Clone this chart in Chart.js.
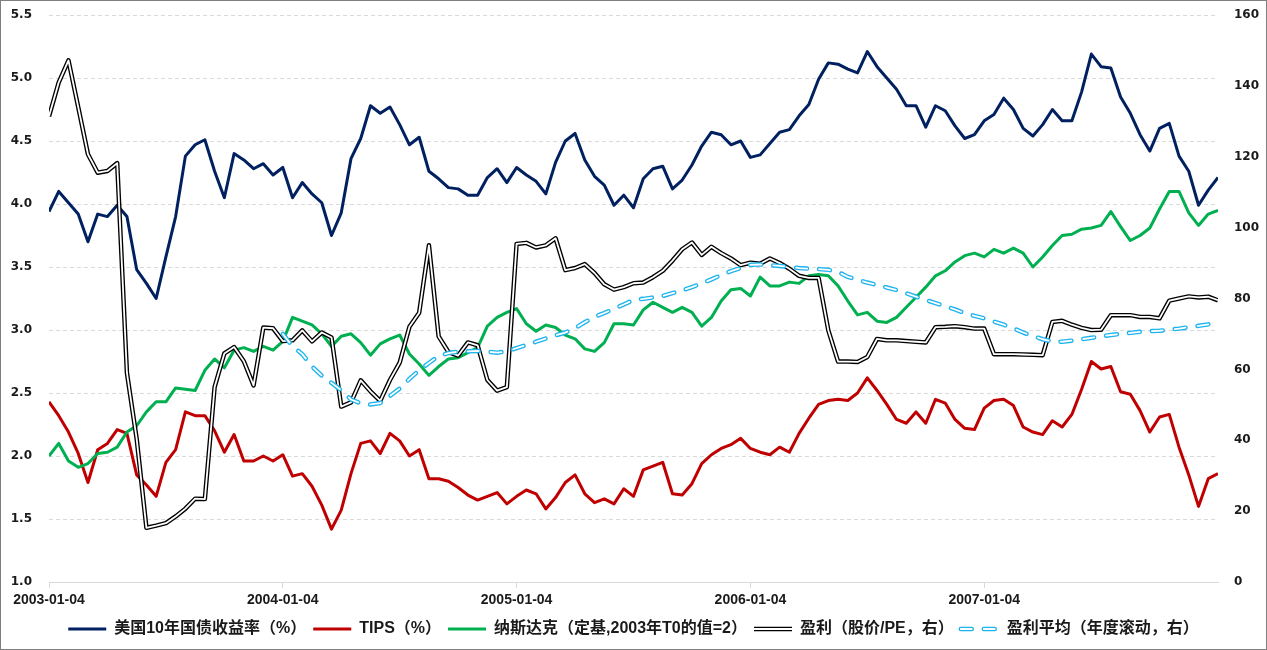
<!DOCTYPE html>
<html>
<head>
<meta charset="utf-8">
<script src="https://cdn.jsdelivr.net/npm/chart.js@4.4.1/dist/chart.umd.min.js"></script>
<style>
  html, body { margin: 0; padding: 0; background: #fff; }
</style>
</head>
<body>
<canvas id="chart" width="1267" height="650"></canvas>
<script>
// half-month steps starting 2003-01-04
const yearTickAt = [0, 24, 48, 72, 96];
const yearTickLabels = ['2003-01-04', '2004-01-04', '2005-01-04', '2006-01-04', '2007-01-04'];

// left axis (%)
const yield10y = [
  3.94, 4.10, 4.01, 3.92, 3.70, 3.92, 3.90, 3.99, 3.90, 3.48,
  3.37, 3.25, 3.58, 3.90, 4.38, 4.47, 4.51, 4.26, 4.05, 4.40,
  4.35, 4.28, 4.32, 4.23, 4.29, 4.05, 4.17, 4.08, 4.01, 3.75,
  3.93, 4.36, 4.52, 4.78, 4.72, 4.77, 4.63, 4.47, 4.53, 4.26,
  4.20, 4.13, 4.12, 4.07, 4.07, 4.21, 4.28, 4.17, 4.29, 4.23,
  4.18, 4.08, 4.33, 4.50, 4.56, 4.35, 4.22, 4.15, 3.99, 4.07,
  3.97, 4.20, 4.28, 4.30, 4.12, 4.19, 4.31, 4.46, 4.57, 4.55,
  4.47, 4.50, 4.37, 4.39, 4.48, 4.57, 4.59, 4.70, 4.79, 4.99,
  5.12, 5.11, 5.07, 5.04, 5.21, 5.09, 5.00, 4.91, 4.78, 4.78,
  4.61, 4.78, 4.74, 4.62, 4.52, 4.55, 4.66, 4.71, 4.84, 4.75,
  4.60, 4.54, 4.63, 4.75, 4.66, 4.66, 4.89, 5.19, 5.09, 5.08,
  4.85, 4.72, 4.55, 4.42, 4.60, 4.64, 4.38, 4.26, 3.99, 4.11,
  4.21
];
const tips = [
  2.43, 2.32, 2.19, 2.02, 1.79, 2.05, 2.10, 2.21, 2.18, 1.85,
  1.77, 1.68, 1.95, 2.05, 2.35, 2.32, 2.32, 2.20, 2.03, 2.17,
  1.96, 1.96, 2.00, 1.96, 2.01, 1.84, 1.86, 1.76, 1.61, 1.42,
  1.57, 1.86, 2.10, 2.12, 2.02, 2.18, 2.12, 2.00, 2.05, 1.82,
  1.82, 1.80, 1.75, 1.69, 1.65, 1.68, 1.71, 1.62, 1.68, 1.73,
  1.70, 1.58, 1.67, 1.79, 1.85, 1.70, 1.63, 1.66, 1.62, 1.74,
  1.68, 1.89, 1.92, 1.95, 1.70, 1.69, 1.78, 1.94, 2.01, 2.06,
  2.09, 2.14, 2.06, 2.03, 2.01, 2.07, 2.03, 2.18, 2.30, 2.41,
  2.44, 2.45, 2.44, 2.50, 2.62, 2.52, 2.41, 2.29, 2.26, 2.35,
  2.26, 2.45, 2.42, 2.29, 2.22, 2.21, 2.38, 2.44, 2.45, 2.40,
  2.23, 2.19, 2.17, 2.28, 2.23, 2.33, 2.53, 2.75, 2.69, 2.71,
  2.51, 2.49, 2.36, 2.19, 2.31, 2.33, 2.07, 1.85, 1.60, 1.82,
  1.86
];
const nasdaq = [
  2.00, 2.10, 1.96, 1.91, 1.94, 2.02, 2.03, 2.07, 2.19, 2.24,
  2.35, 2.43, 2.43, 2.54, 2.53, 2.52, 2.68, 2.77, 2.70, 2.84,
  2.86, 2.83, 2.87, 2.84, 2.91, 3.10, 3.07, 3.04, 2.97, 2.87,
  2.95, 2.97, 2.90, 2.80, 2.89, 2.93, 2.96, 2.81, 2.73, 2.64,
  2.71, 2.77, 2.78, 2.82, 2.86, 3.03, 3.10, 3.14, 3.17, 3.05,
  2.99, 3.04, 3.02, 2.96, 2.93, 2.85, 2.83, 2.90, 3.05, 3.05,
  3.04, 3.16, 3.22, 3.18, 3.14, 3.18, 3.14, 3.03, 3.10, 3.23,
  3.32, 3.33, 3.27, 3.42, 3.35, 3.35, 3.38, 3.37, 3.43, 3.44,
  3.43, 3.35, 3.23, 3.12, 3.14, 3.07, 3.06, 3.10, 3.18, 3.26,
  3.34, 3.43, 3.47, 3.54, 3.59, 3.61, 3.58, 3.64, 3.61, 3.65,
  3.61, 3.50, 3.58, 3.67, 3.75, 3.76, 3.80, 3.81, 3.83, 3.94,
  3.82, 3.71, 3.75, 3.81, 3.96, 4.10, 4.10, 3.93, 3.83, 3.92,
  3.95
];

// right axis
const earnings = [
  131.4, 141, 147.2, 134, 120.7, 115.5, 116, 118.2, 59, 40.4,
  15.3, 15.9, 16.6, 18.5, 20.7, 23.5, 23.4, 55, 64.5, 66.3,
  62.3, 55.5, 71.8, 71.6, 68, 68.2, 71, 67.9, 70.4, 69,
  49.5, 50.7, 56.9, 53.8, 51.1, 57, 61.9, 72, 76, 95,
  69.3, 64.9, 63.9, 67.6, 66.8, 57, 54, 55, 95.4, 95.7,
  94.4, 95, 97, 88, 88.6, 89.7, 87.2, 84, 82.5, 83.2,
  84.3, 84.5, 86, 87.8, 90.7, 93.9, 95.8, 92.3, 94.6, 92.8,
  91.3, 89.4, 90.1, 89.8, 91.3, 90, 88.4, 86.4, 85.8, 85.8,
  71, 62.2, 62.2, 62.1, 63.5, 68.6, 68.2, 68.2, 68, 67.8,
  67.6, 71.9, 72, 72.2, 71.9, 71.5, 71.5, 64.3, 64.3, 64.3,
  64.2, 64.1, 64, 73.4, 73.7, 72.6, 71.7, 71.1, 71.2, 75.3,
  75.3, 75.3, 74.8, 74.8, 74.4, 79.4, 80, 80.6, 80.3, 80.5,
  79.5
];
const earningsAvg = [
  null, null, null, null, null, null, null, null, null, null,
  null, null, null, null, null, null, null, null, null, null,
  null, null, null, null,
  70, 66.5, 64.3, 60.8, 58.2, 56.2, 54.1, 51.5, 50.4, 50.1,
  50.5, 52.5, 54.6, 57.3, 59.8, 61.8, 63.8, 64.6, 65.0, 65.1,
  65.2, 65.0, 64.7, 65.1, 66.0, 66.9, 67.8, 68.7, 69.6, 70.4,
  71.6, 73.3, 74.8, 75.9, 77.1, 78.3, 79.6, 79.9, 80.3, 80.7,
  81.5, 82.3, 83.2, 84.3, 85.4, 86.6, 87.7, 88.6, 89.5, 89.6,
  89.4, 89.2, 88.9, 88.6, 88.4, 88.3, 88.1, 87.5, 86.1, 85.3,
  84.5, 83.8, 83.1, 82.4, 81.5, 80.5, 79.6, 78.7, 77.8, 76.9,
  75.9, 75.1, 74.4, 73.5, 72.6, 71.6, 70.4, 69.4, 68.5, 67.9,
  67.8, 68.1, 68.5, 68.9, 69.3, 69.7, 70.0, 70.3, 70.6, 70.8,
  70.9, 71.2, 71.5, 71.9, 72.3, 72.7, 73.0
];

const periods = yield10y.map((_, i) => i);
const textColor = '#1a1a1a';
const tickFont = { family: 'DejaVu Sans', size: 12, weight: 'bold' };
const avgDash = [11, 12];

// white centre line for the double lines in the legend, plus the outer frame
const decor = {
  id: 'decor',
  afterDraw(chart) {
    const ctx = chart.ctx;
    const lg = chart.legend;
    const lab = lg.options.labels;
    lg.legendItems.forEach((item, k) => {
      const ds = chart.data.datasets[item.datasetIndex];
      if (!ds.core) return;
      const hb = lg.legendHitBoxes[k];
      const y = hb.top + lab.font.size / 2;
      ctx.save();
      ctx.strokeStyle = '#fff';
      ctx.lineWidth = 1.8;
      ctx.lineCap = ds.borderCapStyle || 'butt';
      ctx.setLineDash(ds.borderDash || []);
      ctx.beginPath();
      ctx.moveTo(hb.left, y);
      ctx.lineTo(hb.left + lab.pointStyleWidth, y);
      ctx.stroke();
      ctx.restore();
    });
    ctx.save();
    ctx.strokeStyle = '#7f7f7f';
    ctx.lineWidth = 1;
    ctx.strokeRect(0.5, 0.5, chart.width - 1, chart.height - 1);
    ctx.restore();
  }
};

const line = (extra) => Object.assign({
  borderWidth: 3, pointRadius: 0, tension: 0, fill: false,
  borderJoinStyle: 'round', yAxisID: 'y'
}, extra);

const noAxisPad = s => { s.width = 49; s.paddingTop = 0; s.paddingBottom = 0; };

new Chart(document.getElementById('chart'), {
  type: 'line',
  data: {
    labels: periods,
    datasets: [
      line({ label: '美国10年国债收益率（%）', data: yield10y, borderColor: '#002060', order: 7 }),
      line({ label: 'TIPS（%）', data: tips, borderColor: '#C00000', order: 6 }),
      line({ label: '纳斯达克（定基,2003年T0的值=2）', data: nasdaq, borderColor: '#00B050', order: 5 }),
      line({ label: '盈利（股价/PE，右）', data: earnings, borderColor: '#000000', borderWidth: 4.5, yAxisID: 'y1', order: 4, core: true }),
      line({ label: '_core1', data: earnings, borderColor: '#ffffff', borderWidth: 1.8, yAxisID: 'y1', order: 3, overlay: true }),
      line({ label: '盈利平均（年度滚动，右）', data: earningsAvg, borderColor: '#1EB4EE', borderWidth: 4.5, borderDash: avgDash, borderCapStyle: 'round', yAxisID: 'y1', order: 2, core: true }),
      line({ label: '_core2', data: earningsAvg, borderColor: '#ffffff', borderWidth: 1.8, borderDash: avgDash, borderCapStyle: 'round', yAxisID: 'y1', order: 1, overlay: true })
    ]
  },
  options: {
    responsive: false,
    animation: false,
    layout: { padding: { top: 15, left: 0, right: 0, bottom: 3 } },
    plugins: {
      tooltip: { enabled: false },
      legend: {
        position: 'bottom',
        labels: {
          usePointStyle: true,
          pointStyleWidth: 38,
          padding: 7,
          color: textColor,
          font: { family: '"Liberation Sans", "Noto Sans CJK SC"', size: 16, weight: 'bold' },
          sort: (a, b) => a.datasetIndex - b.datasetIndex,
          generateLabels(chart) {
            return Chart.defaults.plugins.legend.labels.generateLabels(chart).map(item => {
              const ds = chart.data.datasets[item.datasetIndex];
              return Object.assign(item, {
                pointStyle: 'line',
                strokeStyle: ds.borderColor,
                lineWidth: ds.borderWidth,
                lineCap: ds.borderCapStyle || 'butt',
                lineDash: ds.borderDash || []
              });
            });
          },
          filter: (item, data) => !data.datasets[item.datasetIndex].overlay
        }
      }
    },
    scales: {
      x: {
        type: 'linear',
        min: 0,
        max: periods.length - 1,
        afterBuildTicks: s => { s.ticks = yearTickAt.map(v => ({ value: v })); },
        ticks: {
          autoSkip: false,
          maxRotation: 0,
          padding: 4,
          color: textColor,
          font: { family: 'Liberation Sans', size: 14, weight: 'bold' },
          callback: v => yearTickLabels[yearTickAt.indexOf(v)]
        },
        grid: { drawOnChartArea: false, drawTicks: true, tickLength: 6, color: '#d9d9d9' },
        border: { display: true, color: '#d9d9d9', width: 1 },
        afterFit: s => { s.height = 32; }
      },
      y: {
        position: 'left',
        min: 1,
        max: 5.5,
        ticks: { stepSize: 0.5, padding: 17, color: textColor, font: tickFont, callback: v => v.toFixed(1) },
        grid: { color: '#d9d9d9', drawTicks: false },
        border: { display: false, dash: [4, 3] },
        afterFit: noAxisPad
      },
      y1: {
        position: 'right',
        min: 0,
        max: 160,
        ticks: { stepSize: 20, padding: 16, color: textColor, font: tickFont },
        grid: { display: false, drawTicks: false },
        border: { display: false },
        afterFit: noAxisPad
      }
    }
  },
  plugins: [decor]
});
</script>
</body>
</html>
